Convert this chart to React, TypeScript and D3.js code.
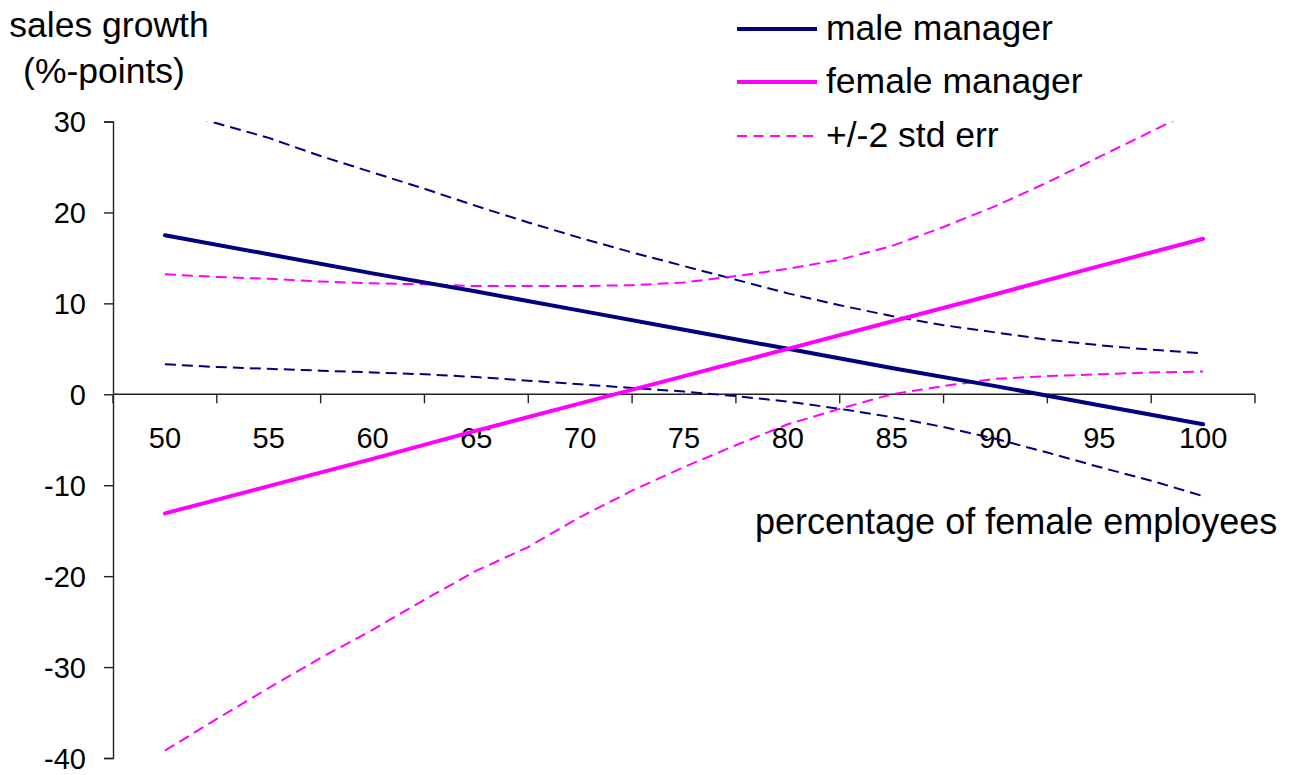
import * as d3 from "d3";
import { useEffect, useRef } from "react";

// x positions (percentage of female employees)
const solidX = [50, 55, 60, 65, 70, 75, 80, 85, 90, 95, 100];
const maleManager = [17.5, 15.4, 13.3, 11.3, 9.2, 7.1, 5.0, 2.9, 0.9, -1.2, -3.3];
const femaleManager = [-13.1, -10.1, -7.1, -4.0, -1.0, 2.0, 5.0, 8.0, 11.0, 14.1, 17.1];

const bandX = [50, 52.5, 55, 57.5, 60, 62.5, 65, 67.5, 70, 72.5, 75, 77.5, 80, 82.5, 85, 87.5, 90, 92.5, 95, 97.5, 100];
const maleUpper = [31.5, 29.8, 28.2, 26.2, 24.4, 22.6, 20.7, 18.9, 17.2, 15.6, 14.1, 12.6, 11.1, 9.8, 8.6, 7.6, 6.8, 6.0, 5.4, 4.9, 4.5];
const maleLower = [3.3, 3.0, 2.8, 2.6, 2.4, 2.2, 1.9, 1.5, 1.1, 0.7, 0.3, -0.2, -0.8, -1.6, -2.5, -3.6, -4.9, -6.4, -8.0, -9.5, -11.2];
const femaleUpper = [13.2, 12.9, 12.7, 12.4, 12.2, 12.1, 11.9, 11.9, 11.9, 12.0, 12.3, 13.0, 13.8, 14.8, 16.3, 18.4, 20.7, 23.3, 26.1, 28.9, 31.7];
const femaleLower = [-39.2, -35.7, -32.3, -29.0, -25.9, -22.6, -19.4, -16.8, -13.5, -10.6, -8.0, -5.6, -3.3, -1.6, 0.0, 0.9, 1.7, 2.0, 2.2, 2.4, 2.5];

const xTickLabels = [50, 55, 60, 65, 70, 75, 80, 85, 90, 95, 100];
const xTickMarks = [47.5, 52.5, 57.5, 62.5, 67.5, 72.5, 77.5, 82.5, 87.5, 92.5, 97.5, 102.5];
const yTicks = [30, 20, 10, 0, -10, -20, -30, -40];

const NAVY = "#000080";
const MAGENTA = "#ff00ff";
const FONT = "Arial, 'Liberation Sans', sans-serif";

function App() {
	const ref = useRef<SVGSVGElement>(null);

	useEffect(() => {
		const svg = d3.select(ref.current);
		svg.selectAll("*").remove();

		const left = 113;
		const right = 1255;
		const top = 121.5;
		const bottom = 758;

		const x = d3.scaleLinear().domain([47.5, 102.5]).range([left, right]);
		const y = d3.scaleLinear().domain([-40, 30]).range([bottom, top]);

		svg.append("defs")
			.append("clipPath")
			.attr("id", "plot-clip")
			.append("rect")
			.attr("x", left)
			.attr("y", top)
			.attr("width", right - left)
			.attr("height", bottom - top);

		// y axis
		const yAxis = d3
			.axisLeft(y)
			.tickValues(yTicks)
			.tickSize(9)
			.tickPadding(18)
			.tickFormat((d) => String(d));
		const gy = svg.append("g").attr("transform", `translate(${left},0)`).call(yAxis);
		gy.select(".domain").attr("stroke", "#222").attr("stroke-width", 1.4);
		gy.selectAll(".tick line").attr("stroke", "#222").attr("stroke-width", 1.4);
		gy.selectAll(".tick text")
			.attr("font-size", 29)
			.attr("font-family", FONT)
			.attr("fill", "#000")
			.attr("dy", "0.36em");

		// x axis on y = 0, tick marks between categories
		const gx = svg.append("g").attr("transform", `translate(0,${y(0)})`);
		gx.append("line")
			.attr("x1", left)
			.attr("x2", right)
			.attr("stroke", "#222")
			.attr("stroke-width", 1.4);
		gx.selectAll(".xtick")
			.data(xTickMarks)
			.enter()
			.append("line")
			.attr("x1", (d) => x(d))
			.attr("x2", (d) => x(d))
			.attr("y1", 0)
			.attr("y2", 9)
			.attr("stroke", "#222")
			.attr("stroke-width", 1.4);
		gx.selectAll(".xlabel")
			.data(xTickLabels)
			.enter()
			.append("text")
			.attr("x", (d) => x(d))
			.attr("y", 54)
			.attr("text-anchor", "middle")
			.attr("font-size", 29)
			.attr("font-family", FONT)
			.text((d) => d);

		// titles
		svg.append("text")
			.attr("x", 109)
			.attr("y", 37)
			.attr("text-anchor", "middle")
			.attr("font-size", 35.5)
			.attr("font-family", FONT)
			.text("sales growth");
		svg.append("text")
			.attr("x", 104)
			.attr("y", 83)
			.attr("text-anchor", "middle")
			.attr("font-size", 35.5)
			.attr("font-family", FONT)
			.text("(%-points)");
		svg.append("text")
			.attr("x", 755)
			.attr("y", 534)
			.attr("font-size", 36)
			.attr("font-family", FONT)
			.text("percentage of female employees");

		// lines
		const line = d3
			.line<[number, number]>()
			.x((d) => x(d[0]))
			.y((d) => y(d[1]));
		const plot = svg.append("g").attr("clip-path", "url(#plot-clip)");

		const series = [
			{ xs: bandX, ys: maleUpper, color: NAVY, width: 2, dash: "11,6" },
			{ xs: bandX, ys: maleLower, color: NAVY, width: 2, dash: "11,6" },
			{ xs: bandX, ys: femaleUpper, color: MAGENTA, width: 2, dash: "11,6" },
			{ xs: bandX, ys: femaleLower, color: MAGENTA, width: 2, dash: "11,6" },
			{ xs: solidX, ys: maleManager, color: NAVY, width: 4, dash: null },
			{ xs: solidX, ys: femaleManager, color: MAGENTA, width: 4, dash: null },
		];
		series.forEach((s) => {
			const pts: [number, number][] = s.xs.map((v, i) => [v, s.ys[i]]);
			plot.append("path")
				.attr("d", line(pts))
				.attr("fill", "none")
				.attr("stroke", s.color)
				.attr("stroke-width", s.width)
				.attr("stroke-dasharray", s.dash)
				.attr("stroke-linecap", s.dash ? "butt" : "round");
		});

		// legend
		const legend = [
			{ label: "male manager", color: NAVY, width: 4, dash: null, cy: 29 },
			{ label: "female manager", color: MAGENTA, width: 4, dash: null, cy: 82 },
			{ label: "+/-2 std err", color: MAGENTA, width: 2, dash: "10,6.5", cy: 136 },
		];
		legend.forEach((l) => {
			svg.append("line")
				.attr("x1", 737)
				.attr("x2", 817)
				.attr("y1", l.cy)
				.attr("y2", l.cy)
				.attr("stroke", l.color)
				.attr("stroke-width", l.width)
				.attr("stroke-dasharray", l.dash);
			svg.append("text")
				.attr("x", 826)
				.attr("y", l.cy + 11)
				.attr("font-size", 35.5)
				.attr("font-family", FONT)
				.text(l.label);
		});
	}, []);

	return (
		<svg
			ref={ref}
			width={1296}
			height={775}
			style={{ position: "absolute", left: 0, top: 0, background: "#fff" }}
		></svg>
	);
}

export default App;
